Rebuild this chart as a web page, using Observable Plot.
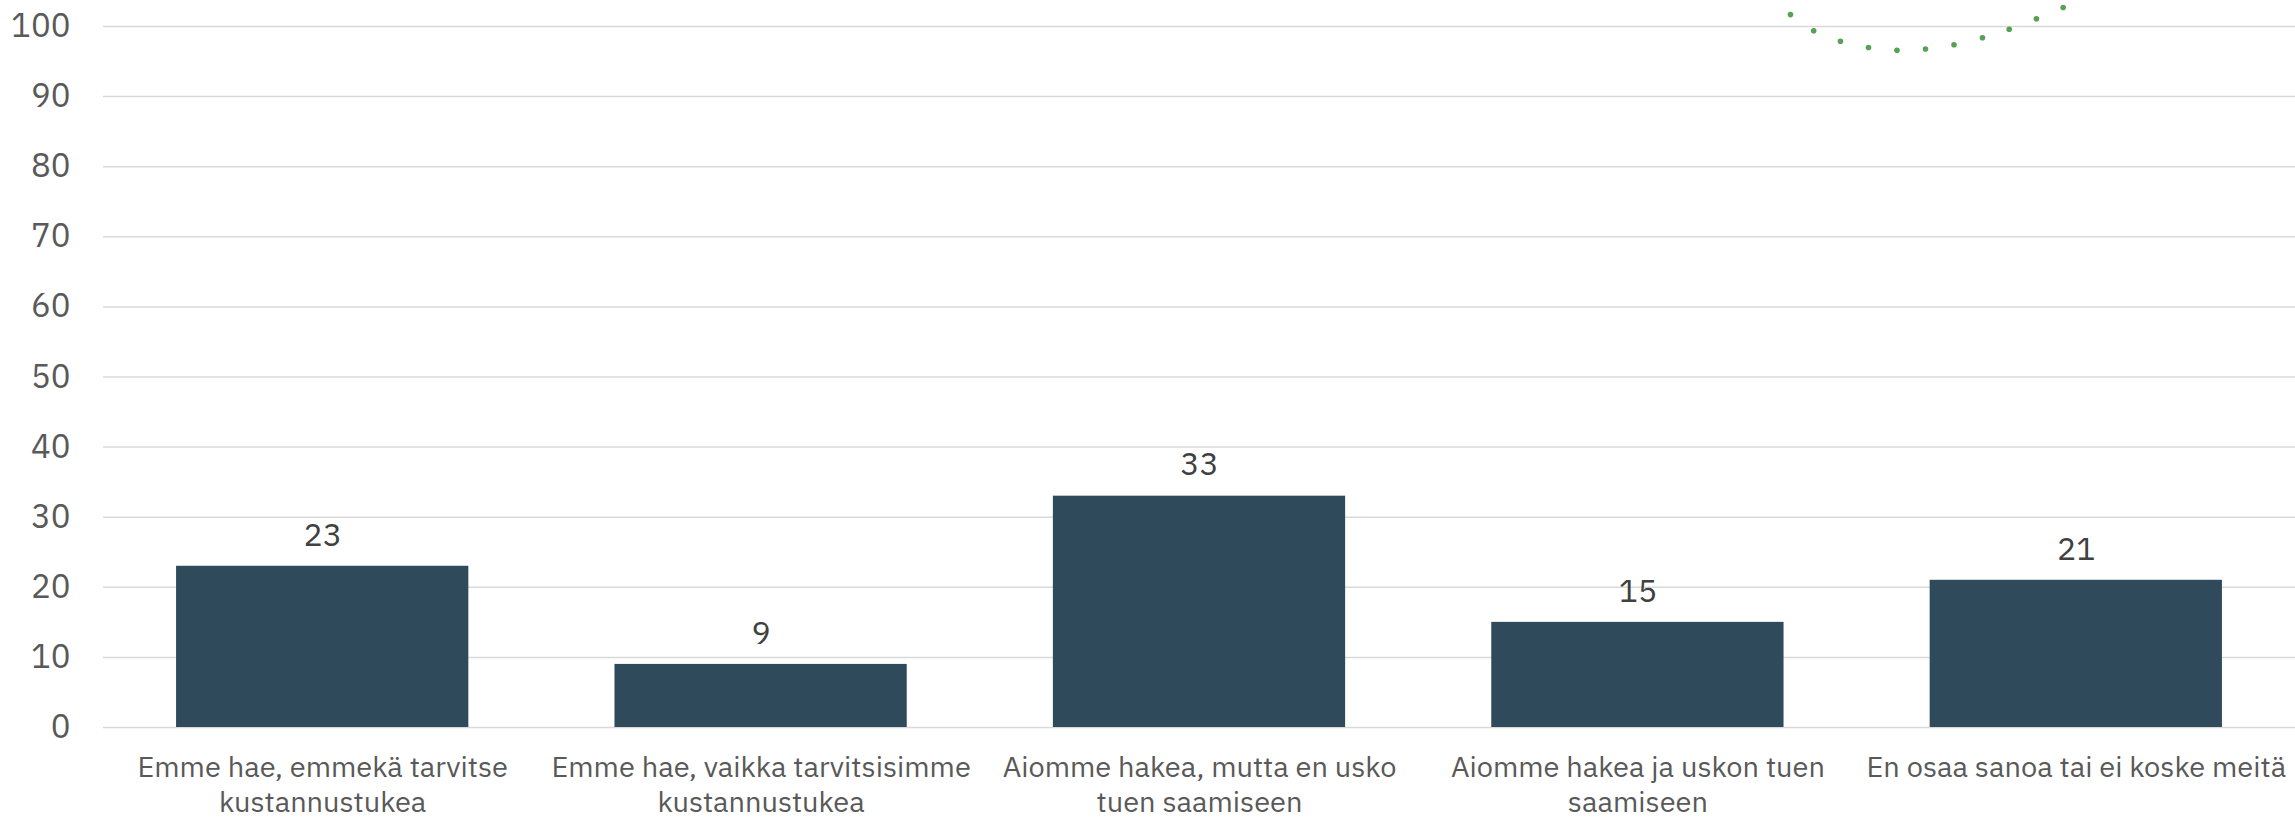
<!DOCTYPE html>
<html><head><meta charset="utf-8">
<script src="https://cdn.jsdelivr.net/npm/d3@7"></script>
<script src="https://cdn.jsdelivr.net/npm/@observablehq/plot@0.6"></script>
<style>body{margin:0;background:#fff;overflow:hidden} svg{display:block}</style>
</head><body><div id="chart"></div>
<script>
const categories = [
  "Emme hae, emmekä tarvitse kustannustukea",
  "Emme hae, vaikka tarvitsisimme kustannustukea",
  "Aiomme hakea, mutta en usko tuen saamiseen",
  "Aiomme hakea ja uskon tuen saamiseen",
  "En osaa sanoa tai ei koske meitä"
];
const tickLabels = [
  "Emme hae, emmekä tarvitse\nkustannustukea",
  "Emme hae, vaikka tarvitsisimme\nkustannustukea",
  "Aiomme hakea, mutta en usko\ntuen saamiseen",
  "Aiomme hakea ja uskon tuen\nsaamiseen",
  "En osaa sanoa tai ei koske meitä"
];
const values = [23, 9, 33, 15, 21];
const yTicks = [0, 10, 20, 30, 40, 50, 60, 70, 80, 90, 100];
// dotted green arc (x in category units, y in value units)
const arcX = [3.848, 3.901, 3.962, 4.026, 4.091, 4.156, 4.221, 4.286, 4.347, 4.409, 4.470];
const arcY = [101.7, 99.4, 97.9, 97.0, 96.6, 96.8, 97.4, 98.4, 99.6, 101.1, 102.7];

const data = categories.map((c, i) => ({i, category: c, value: values[i]}));
const arc = arcX.map((x, i) => ({x, y: arcY[i]}));
const barPadding = 1 / 3;
const font = "'IBM Plex Sans', Roboto, 'Noto Sans', sans-serif";

const chart = Plot.plot({
  width: 2295, height: 817,
  marginTop: 26, marginBottom: 90, marginLeft: 103, marginRight: 0,
  style: {fontFamily: font, fontSize: "30px", color: "#595959", background: "#fff", overflow: "visible"},
  x: {domain: [0, categories.length], axis: null},
  y: {domain: [0, 100], axis: null},
  marks: [
    Plot.gridY(yTicks, {stroke: "#d9d9d9", strokeOpacity: 1, strokeWidth: 1.5}),
    Plot.axisY(yTicks, {tickSize: 0, tickPadding: 33, fontSize: 33, fill: "#595959", label: null}),
    Plot.rectY(data, {x1: d => d.i + barPadding / 2, x2: d => d.i + 1 - barPadding / 2, y: "value", fill: "#2E4A5B"}),
    Plot.text(data, {x: d => d.i + 0.5, y: "value", text: d => String(d.value), dy: -31, fill: "#404040", fontSize: 32}),
    Plot.axisX(data.map(d => d.i + 0.5), {tickSize: 0, tickPadding: 24, tickFormat: v => tickLabels[Math.floor(v)], lineHeight: 1.22, fontSize: 29, fill: "#595959", label: null}),
    Plot.dot(arc, {x: "x", y: "y", r: 2.8, fill: "#56A153", stroke: null})
  ]
});
document.getElementById("chart").appendChild(chart);
</script>
</body></html>
